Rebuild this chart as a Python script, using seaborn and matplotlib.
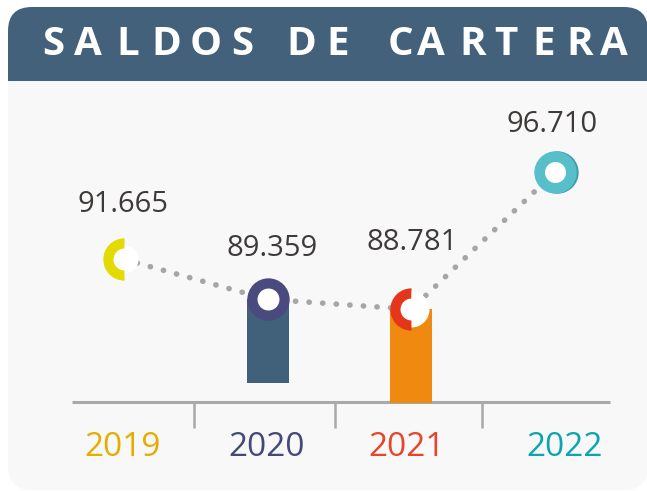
import numpy as np
import pandas as pd
import matplotlib
matplotlib.use("Agg")
import matplotlib.pyplot as plt
import matplotlib.transforms as mtransforms
from matplotlib.patches import FancyBboxPatch, Rectangle
import seaborn as sns

sns.set_style("white")
plt.rcParams['font.family'] = ['Open Sans', 'DejaVu Sans']

# data
years = ['2019', '2020', '2021', '2022']
saldos = [91.665, 89.359, 88.781, 96.710]
title = "SALDOS DE CARTERA"

# colours
header_col = '#43617b'
panel_col = '#f8f8f8'
year_cols = ['#e6ad00', '#434a78', '#e5452a', '#0aa5b0']
ring_cols = ['#e3da00', '#4b4a7f', '#e5361b', '#56bfc9']
bar_cols = {1: '#41607a', 2: '#f0890f'}
dots_col = '#a6a6a6'
txt_col = '#3e3a39'

df = pd.DataFrame({'idx': np.arange(len(years)), 'year': years, 'saldo': saldos})

W, H = 647, 491
fig = plt.figure(figsize=(W / 100, H / 100), dpi=100)
fig.patch.set_facecolor('white')

# background axes in pixel units
bg = fig.add_axes([0, 0, 1, 1])
bg.set_xlim(0, W)
bg.set_ylim(H, 0)
bg.axis('off')

r = 24
bg.add_patch(FancyBboxPatch((8 + r, 7 + r), 648 - 8 - 2 * r, 490 - 7 - 2 * r,
                            boxstyle=f"round,pad={r}", fc=panel_col, ec='none'))
bg.add_patch(FancyBboxPatch((8 + r, 7 + r), 648 - 8 - 2 * r, 81 - 7 - 2 * r,
                            boxstyle=f"round,pad={r}", fc=header_col, ec='none'))
bg.add_patch(Rectangle((8, 45), 640, 36, fc=header_col, ec='none'))

# spaced title letters
letter_x = [53, 88, 128, 166, 206, 242, 301, 338, 400, 431, 473, 506, 544, 580, 614]
for ch, lx in zip(title.replace(' ', ''), letter_x):
    bg.text(lx, 44, ch, color='white', fontsize=29, fontweight='bold',
            ha='center', va='center')

# base line with separators
bg.plot([72, 610], [402, 402], color='#a9a9a9', lw=2.2, solid_capstyle='butt', zorder=1)
for tx in [194, 335, 482]:
    bg.plot([tx, tx], [402, 428], color='#a9a9a9', lw=1.8, solid_capstyle='butt')

for yr, yx, c in zip(years, [123, 267, 407, 565], year_cols):
    bg.text(yx, 447, yr, color=c, fontsize=24, ha='center', va='center')

# data axes
px_per_cat = 143.67
px_per_val = 17.31
x_left = 124 - 0.5 * px_per_cat
y_lo = 91.629 - (403 - 260) / px_per_val
y_hi = 91.629 + (260 - 100) / px_per_val
ax = fig.add_axes([x_left / W, (H - 403) / H, 4 * px_per_cat / W, 303 / H])
ax.set_xlim(-0.5, 3.5)
ax.set_ylim(y_lo, y_hi)
ax.patch.set_alpha(0)
ax.axis('off')

# bars under the 2020 and 2021 markers
bar_w = 42 / px_per_cat
bar_bottom = {1: 84.52, 2: y_lo - 0.5}
for i in (1, 2):
    ax.bar(i, saldos[i] - bar_bottom[i], bottom=bar_bottom[i], width=bar_w,
           color=bar_cols[i], zorder=2, linewidth=0)

# dotted trend line
sns.lineplot(data=df, x='idx', y='saldo', ax=ax, color=dots_col, linewidth=4.0, zorder=1)
ln = ax.lines[-1]
ln.set_linestyle((0, (0.05, 2.4)))
ln.set_dash_capstyle('round')

big = 30.5
# 2019: half ring
ax.plot(0, saldos[0], 'o', ms=big, fillstyle='left', mfc=ring_cols[0], mfcalt='none', mew=0, zorder=4)
ax.plot(0, saldos[0], 'o', ms=20.2, fillstyle='right', mfc='white', mfcalt='none', mew=0, zorder=5)
ax.plot(0, saldos[0], 'o', ms=15.8, color='white', mew=0, zorder=5)

# 2020: full ring
sns.scatterplot(x=[1], y=[saldos[1]], ax=ax, s=big ** 2, color=ring_cols[1], linewidth=0, zorder=4)
ax.plot(1, saldos[1], 'o', ms=15.8, color='white', mew=0, zorder=5)

# 2021: half ring
ax.plot(2, saldos[2], 'o', ms=big, fillstyle='left', mfc=ring_cols[2], mfcalt='none', mew=0, zorder=4)
ax.plot(2, saldos[2], 'o', ms=25.9, fillstyle='right', mfc='white', mfcalt='none', mew=0, zorder=5)
ax.plot(2, saldos[2], 'o', ms=15.8, color='white', mew=0, zorder=5)

# 2022: ring with darker rim
shift = mtransforms.offset_copy(ax.transData, fig=fig, x=2, y=0, units='dots')
ax.plot(3, saldos[3], 'o', ms=big, color='#3f9ea7', mew=0, zorder=3, transform=shift)
sns.scatterplot(x=[3], y=[saldos[3]], ax=ax, s=big ** 2, color=ring_cols[3], linewidth=0, zorder=4)
ax.plot(3, saldos[3], 'o', ms=15.1, color='white', mew=0, zorder=5)

# value labels
label_off = [(-1, 55), (4, 51), (1, 67), (-3, 48)]
for i, v in enumerate(saldos):
    ax.annotate(f"{v:.3f}", (i, v), xytext=label_off[i], textcoords='offset pixels',
                ha='center', va='center', fontsize=21, color=txt_col)

fig.savefig('out.png', dpi=100, facecolor='white')
